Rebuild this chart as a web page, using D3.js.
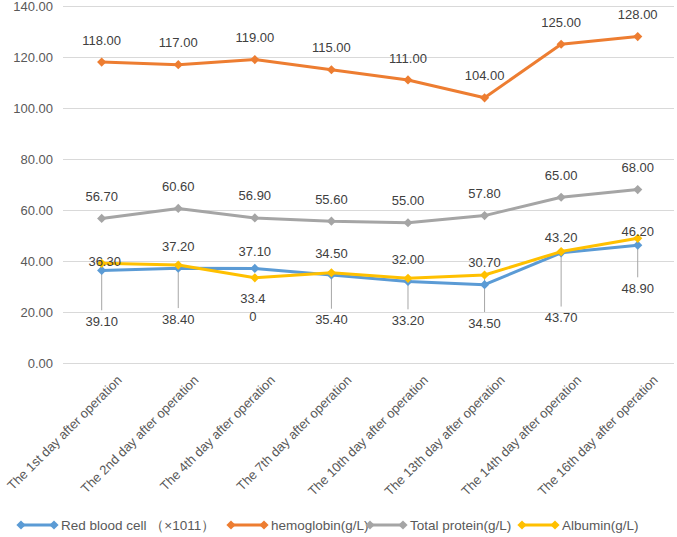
<!DOCTYPE html>
<html>
<head>
<meta charset="utf-8">
<script src="https://cdn.jsdelivr.net/npm/d3@7"></script>
<style>
  html, body { margin: 0; padding: 0; background: #fff; }
  svg { display: block; font-family: "Liberation Sans", Arial, sans-serif; }
</style>
</head>
<body>
<svg id="chart" width="677" height="537"></svg>
<script>
// ---- data ----
const categories = [
  "The 1st day after operation",
  "The 2nd day after operation",
  "The 4th day after operation",
  "The 7th day after operation",
  "The 10th day after operation",
  "The 13th day after operation",
  "The 14th day after operation",
  "The 16th day after operation"
];
const redBloodCell = [36.30, 37.20, 37.10, 34.50, 32.00, 30.70, 43.20, 46.20];
const hemoglobin   = [118.00, 117.00, 119.00, 115.00, 111.00, 104.00, 125.00, 128.00];
const totalProtein = [56.70, 60.60, 56.90, 55.60, 55.00, 57.80, 65.00, 68.00];
const albumin      = [39.10, 38.40, 33.40, 35.40, 33.20, 34.50, 43.70, 48.90];
const yTicks = [0, 20, 40, 60, 80, 100, 120, 140];
const seriesNames = ["Red blood cell \uFF08\u00D71011\uFF09", "hemoglobin(g/L)", "Total protein(g/L)", "Albumin(g/L)"];

// ---- label / legend layout (presentation only) ----
const rbcLabelDy = [-9, -22, -17, -22, -22, -22, -15, -14];
const rbcLabelDx = [3, 0, 0, 0, 0, 0, 0, 0];
const albLabelDy = [58, 54, 21, 47, 42, 48, 66, 50];
const legendX = [17, 227, 366, 518];

const colors = ["#5B9BD5", "#ED7D31", "#A5A5A5", "#FFC000"];

const svg = d3.select("#chart");
const x = d3.scalePoint().domain(categories).range([63.4, 676]).padding(0.5);
const y = d3.scaleLinear().domain([0, 140]).range([363, 6]);

// grid
svg.append("g").selectAll("line").data(yTicks).join("line")
  .attr("x1", 63).attr("x2", 674)
  .attr("y1", d => Math.round(y(d)) + 0.5).attr("y2", d => Math.round(y(d)) + 0.5)
  .attr("stroke", "#D9D9D9").attr("stroke-width", 1);

// y tick labels
svg.append("g").selectAll("text").data(yTicks).join("text")
  .attr("x", 53).attr("y", d => y(d)).attr("dy", "0.35em")
  .attr("text-anchor", "end").attr("font-size", 13).attr("fill", "#595959")
  .text(d => d.toFixed(2));

// x labels
svg.append("g").selectAll("text").data(categories).join("text")
  .attr("transform", d => `translate(${x(d) + 21},${381}) rotate(-45)`)
  .attr("text-anchor", "end").attr("font-size", 13).attr("fill", "#595959")
  .text(d => d);

const diamond = "M0,-4.6L4.6,0L0,4.6L-4.6,0Z";
const allSeries = [redBloodCell, hemoglobin, totalProtein, albumin];

// leader lines for albumin labels (drawn under lines)
svg.append("g").selectAll("line").data(albumin.map((v, i) => ({v, i}))).join("line")
  .filter(d => albLabelDy[d.i] > 30)
  .attr("x1", d => x(categories[d.i])).attr("x2", d => x(categories[d.i]))
  .attr("y1", d => y(d.v)).attr("y2", d => y(d.v) + albLabelDy[d.i] - 11)
  .attr("stroke", "#A6A6A6").attr("stroke-width", 1);

const line = d3.line().x((d, i) => x(categories[i])).y(d => y(d));
allSeries.forEach((vals, s) => {
  const g = svg.append("g");
  g.append("path").datum(vals).attr("d", line)
    .attr("fill", "none").attr("stroke", colors[s]).attr("stroke-width", 3)
    .attr("stroke-linejoin", "round").attr("stroke-linecap", "round");
  g.selectAll("path.m").data(vals).join("path").attr("class", "m")
    .attr("d", diamond)
    .attr("transform", (d, i) => `translate(${x(categories[i])},${y(d)})`)
    .attr("fill", colors[s]);
});

// data labels
const lblColor = "#404040";
function labels(vals, dxArr, dyArr) {
  svg.append("g").selectAll("text").data(vals).join("text")
    .attr("x", (d, i) => x(categories[i]) + dxArr[i])
    .attr("y", (d, i) => y(d) + dyArr[i]).attr("dy", "0.35em")
    .attr("text-anchor", "middle").attr("font-size", 13).attr("fill", lblColor)
    .each(function(d, i) {
      const t = d3.select(this);
      if (i === 2 && vals === albumin) {
        const s = d.toFixed(2);
        t.append("tspan").attr("x", x(categories[i]) - 2).text(s.slice(0, 4));
        t.append("tspan").attr("x", x(categories[i]) - 2).attr("dy", "1.35em").text(s.slice(4));
      } else {
        t.text(d.toFixed(2));
      }
    });
}
const zeros = categories.map(() => 0);
labels(hemoglobin, zeros, categories.map(() => -22));
labels(totalProtein, zeros, categories.map(() => -22));
labels(redBloodCell, rbcLabelDx, rbcLabelDy);
labels(albumin, zeros, albLabelDy);

// legend
const legend = svg.append("g").attr("transform", "translate(0,525)");
seriesNames.forEach((name, s) => {
  const g = legend.append("g").attr("transform", `translate(${legendX[s]},0)`);
  g.append("line").attr("x1", 3).attr("x2", 38).attr("y1", 0).attr("y2", 0)
    .attr("stroke", colors[s]).attr("stroke-width", 3);
  g.append("path").attr("d", diamond).attr("transform", "translate(4,0)").attr("fill", colors[s]);
  g.append("path").attr("d", diamond).attr("transform", "translate(37,0)").attr("fill", colors[s]);
  g.append("text").attr("x", 44).attr("dy", "0.35em")
    .attr("font-size", 13.5).attr("fill", "#595959").text(name);
});
</script>
</body>
</html>
